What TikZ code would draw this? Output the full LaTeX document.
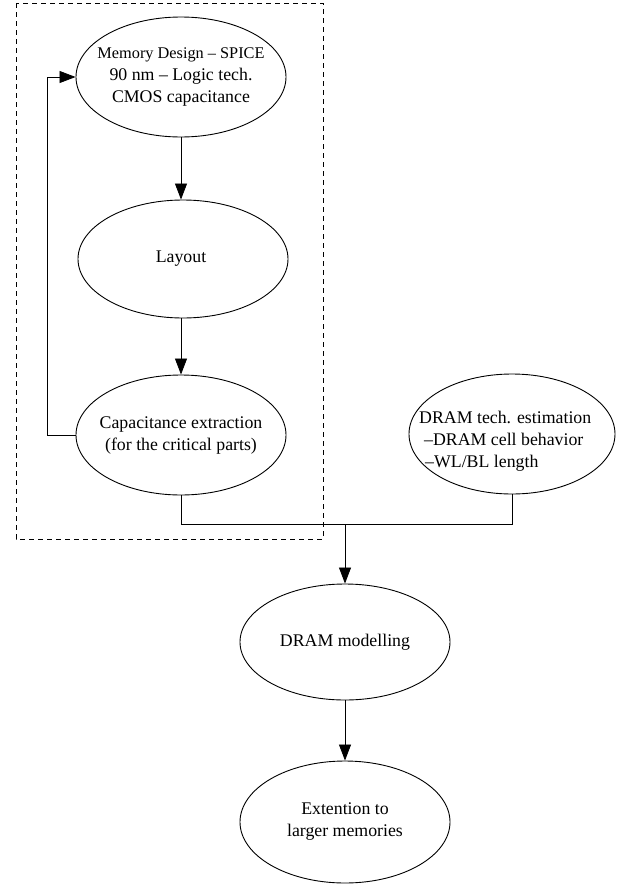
\documentclass[tikz,border=0pt]{standalone}
\usepackage{fontspec}
\setmainfont{Liberation Serif}
\usetikzlibrary{shapes.geometric,arrows.meta}
\begin{document}
\begin{tikzpicture}[x=1bp,y=-1bp,
  ell/.style={ellipse,draw,line width=0.9bp,minimum width=210bp,minimum height=120bp,inner sep=0pt},
  txt/.style={inner sep=0pt,align=center,font=\fontsize{17.8bp}{22bp}\selectfont},
  conn/.style={line width=0.8bp},
  arr/.style={conn,-{Triangle[length=16bp,width=12bp]}},
  grp/.style={draw,line width=0.9bp,dash pattern=on 5bp off 4bp}]
\useasboundingbox (0,0) rectangle (618,884);
\draw[grp] (16,3) rectangle (323,539);
\node[ell] (top) at (181,77) {};
\node[txt] (topt) at (top) {{\fontsize{16.3bp}{22bp}\selectfont Memory Design -- SPICE}\\90 nm -- Logic tech.\\CMOS capacitance};
\node[ell,minimum height=118bp] (lay) at (183,259) {};
\node[txt] (layt) at (181,259) {Layout};
\node[ell] (cap) at (181,435) {};
\node[txt] (capt) at (cap) {Capacitance extraction\\(for the critical parts)};
\node[ell,minimum width=206bp] (tech) at (512,434) {};
\node[txt,align=left,anchor=west] (techt) at (419,441) {DRAM tech. estimation\\\hspace*{5bp}--DRAM cell behavior\\\hspace*{6bp}--WL/BL length};
\node[ell,minimum height=116bp] (model) at (345,642) {};
\node[txt] (modelt) at (model) {DRAM modelling};
\node[ell,minimum height=122bp] (ext) at (345,822) {};
\node[txt] (extt) at (ext) {Extention to\\larger memories};
\coordinate (fb) at (47,435);
\coordinate (j) at (345,524);
\draw[arr] (top.south) -- (top.south |- lay.north);
\draw[arr] (top.south |- lay.south) -- (cap.north);
\draw[arr] (cap.west) -- (fb) |- (top.west);
\draw[conn] (cap.south) |- (j);
\draw[conn] (tech.south) |- (j);
\draw[arr] (j) -- (model.north);
\draw[arr] (model.south) -- (ext.north);
\end{tikzpicture}
\end{document}
